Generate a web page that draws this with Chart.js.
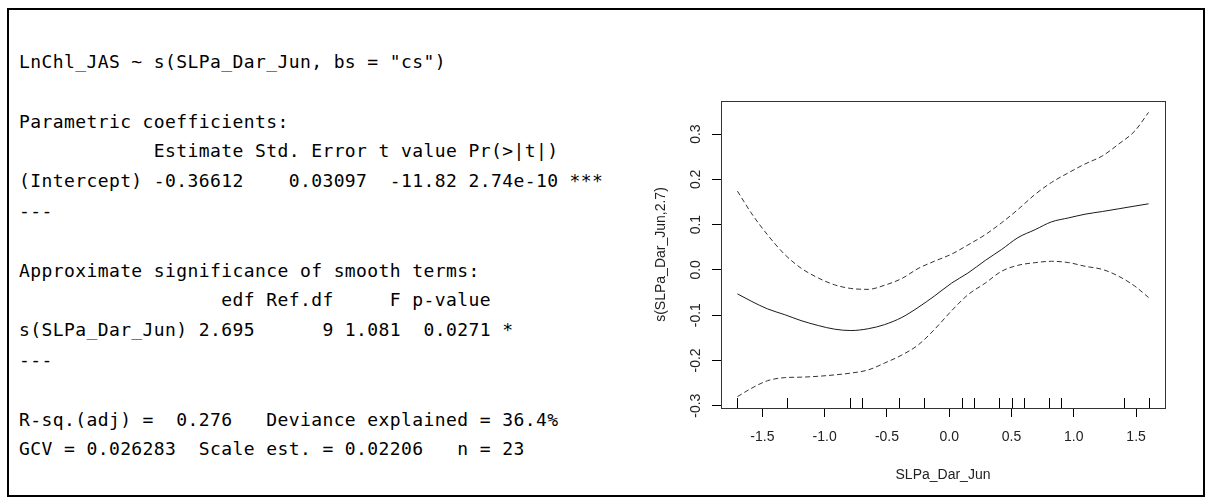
<!DOCTYPE html>
<html>
<head>
<meta charset="utf-8">
<script src="https://cdn.jsdelivr.net/npm/chart.js@4.4.1/dist/chart.umd.min.js"></script>
<style>
  html, body { margin: 0; padding: 0; background: #fff; }
  #wrap { position: relative; width: 1212px; height: 504px; overflow: hidden; }
  #frame { position: absolute; left: 7px; top: 8px; width: 1198px; height: 489px; border: 2px solid #000; box-sizing: border-box; }
  #summary { position: absolute; left: 19px; top: 47px; margin: 0; font-family: "DejaVu Sans Mono", monospace; font-size: 18px; letter-spacing: 0.4px; line-height: 29.8px; color: #000; }
  #gam { position: absolute; left: 0; top: 0; }
</style>
</head>
<body>
<div id="wrap">
<div id="frame"></div>
<pre id="summary">LnChl_JAS ~ s(SLPa_Dar_Jun, bs = "cs")

Parametric coefficients:
            Estimate Std. Error t value Pr(>|t|)
(Intercept) -0.36612    0.03097  -11.82 2.74e-10 ***
---

Approximate significance of smooth terms:
                  edf Ref.df     F p-value
s(SLPa_Dar_Jun) 2.695      9 1.081  0.0271 *
---

R-sq.(adj) =  0.276   Deviance explained = 36.4%
GCV = 0.026283  Scale est. = 0.02206   n = 23</pre>
<canvas id="gam" width="1212" height="504"></canvas>
</div>
<script>
// smooth term
const slpa  = [-1.70, -1.59, -1.46, -1.32, -1.19, -1.05, -0.92, -0.79, -0.65, -0.52, -0.38, -0.25, -0.12, 0.02, 0.15, 0.29, 0.42, 0.55, 0.69, 0.82, 0.96, 1.09, 1.23, 1.36, 1.49, 1.60];
const fit   = [-0.053, -0.069, -0.086, -0.099, -0.112, -0.123, -0.131, -0.134, -0.130, -0.121, -0.105, -0.083, -0.058, -0.029, -0.007, 0.021, 0.045, 0.071, 0.089, 0.106, 0.115, 0.123, 0.129, 0.135, 0.141, 0.146];
const upper = [0.174, 0.126, 0.078, 0.034, 0.004, -0.018, -0.033, -0.041, -0.043, -0.034, -0.019, 0.003, 0.019, 0.035, 0.055, 0.078, 0.104, 0.133, 0.167, 0.193, 0.215, 0.234, 0.252, 0.278, 0.307, 0.348];
const lower = [-0.280, -0.262, -0.245, -0.238, -0.237, -0.235, -0.232, -0.228, -0.221, -0.206, -0.188, -0.166, -0.132, -0.090, -0.055, -0.029, -0.003, 0.010, 0.016, 0.019, 0.016, 0.008, 0.001, -0.014, -0.036, -0.061];
const rug   = [-1.7, -1.3, -0.8, -0.7, -0.4, -0.2, 0.1, 0.2, 0.4, 0.5, 0.6, 0.8, 0.9, 1.4, 1.6];
const xTicks = [-1.5, -1.0, -0.5, 0.0, 0.5, 1.0, 1.5];
const yTicks = [-0.3, -0.2, -0.1, 0.0, 0.1, 0.2, 0.3];

// R pads the data range by 4% each side
function rRange(vals) {
  const lo = Math.min(...vals), hi = Math.max(...vals);
  const d = (hi - lo) * 0.04;
  return [lo - d, hi + d];
}
const xr = rRange(slpa);
const yr = rRange(lower.concat(upper));

const pts = ys => slpa.map((x, i) => ({x: x, y: ys[i]}));
const axisFont = {family: 'Liberation Sans, Arial, sans-serif', size: 14};

const boxAndRug = {
  id: 'boxAndRug',
  afterDatasetsDraw(chart) {
    const {ctx, chartArea: a, scales} = chart;
    ctx.save();
    ctx.strokeStyle = '#333';
    ctx.lineWidth = 1;
    ctx.strokeRect(a.left + 0.5, a.top + 0.5, a.right - a.left, a.bottom - a.top);
    ctx.strokeStyle = '#000';
    ctx.beginPath();
    rug.forEach(v => {
      const px = Math.round(scales.x.getPixelForValue(v)) + 0.5;
      ctx.moveTo(px, a.bottom);
      ctx.lineTo(px, a.bottom - 10);
    });
    ctx.stroke();
    ctx.restore();
  }
};

const lineSet = (data, dashed) => ({
  data: data,
  borderColor: dashed ? '#333' : '#1a1a1a',
  borderWidth: 1,
  borderDash: dashed ? [5, 3] : [],
  pointRadius: 0,
  cubicInterpolationMode: 'monotone',
  fill: false
});

new Chart(document.getElementById('gam'), {
  type: 'line',
  data: {
    datasets: [lineSet(pts(fit), false), lineSet(pts(upper), true), lineSet(pts(lower), true)]
  },
  options: {
    responsive: false,
    animation: false,
    layout: {padding: {left: 653, top: 101, right: 47, bottom: 20}},
    plugins: {legend: {display: false}, tooltip: {enabled: false}},
    scales: {
      x: {
        type: 'linear', min: xr[0], max: xr[1], bounds: 'data',
        afterBuildTicks: s => { s.ticks = xTicks.map(v => ({value: v})); },
        afterFit: s => { s.height = 76; },
        grid: {drawOnChartArea: false, drawTicks: true, tickLength: 9, color: '#000'},
        border: {display: false},
        ticks: {padding: 12, color: '#222', font: axisFont, autoSkip: false, maxRotation: 0,
                callback: v => v.toFixed(1)},
        title: {display: true, text: 'SLPa_Dar_Jun', color: '#222', font: axisFont, padding: 0}
      },
      y: {
        type: 'linear', min: yr[0], max: yr[1], bounds: 'data',
        afterBuildTicks: s => { s.ticks = yTicks.map(v => ({value: v})); },
        afterFit: s => { s.width = 68; },
        grid: {drawOnChartArea: false, drawTicks: true, tickLength: 9, color: '#000'},
        border: {display: false},
        ticks: {padding: 4, color: '#222', font: axisFont, autoSkip: false,
                minRotation: 90, maxRotation: 90, crossAlign: 'center',
                callback: v => v.toFixed(1)},
        title: {display: true, text: 's(SLPa_Dar_Jun,2.7)', color: '#222', font: axisFont, padding: 0}
      }
    }
  },
  plugins: [boxAndRug]
});
</script>
</body>
</html>
